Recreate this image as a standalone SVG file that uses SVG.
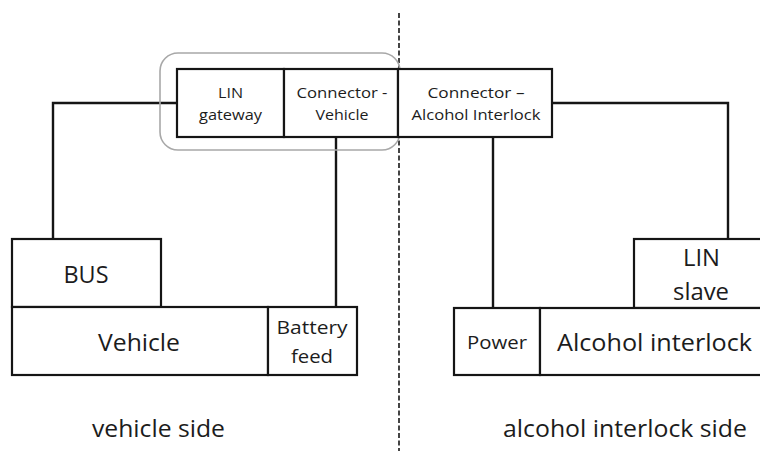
<svg xmlns="http://www.w3.org/2000/svg" width="760" height="451" viewBox="0 0 760 451">
  <style>
    .box { fill: #ffffff; stroke: #151515; stroke-width: 2.2; }
    .wire { fill: none; stroke: #151515; stroke-width: 2.4; }
    .group { fill: none; stroke: #a8a8a8; stroke-width: 1.6; }
    .divider { fill: none; stroke: #444444; stroke-width: 2; stroke-dasharray: 5 2.5; }
    text { font-family: "Open Sans", "Liberation Sans", sans-serif; fill: #1c1c1c; text-anchor: middle; }
    .sm { font-size: 15px; }
    .md { font-size: 18px; }
    .lg { font-size: 24px; }
  </style>

  <rect width="760" height="451" fill="#ffffff"/>

  <!-- side separator -->
  <line class="divider" x1="399" y1="13" x2="399" y2="451"/>

  <!-- connectors -->
  <g id="connectors">
    <path class="wire" d="M177,103 H53 V239"/>
    <path class="wire" d="M336,137 V307"/>
    <path class="wire" d="M493,137 V308"/>
    <path class="wire" d="M552,103 H728 V239"/>
  </g>

  <!-- vehicle-side grouping around gateway and vehicle connector -->
  <rect id="gateway-group" class="group" x="160" y="53" width="240" height="97" rx="18"/>

  <g id="lin-gateway">
    <rect class="box" x="177" y="69" width="107" height="68"/>
    <text class="sm" x="230.5" y="98" textLength="25" lengthAdjust="spacingAndGlyphs">LIN</text>
    <text class="sm" x="230.5" y="120" textLength="63" lengthAdjust="spacingAndGlyphs">gateway</text>
  </g>

  <g id="connector-vehicle">
    <rect class="box" x="284" y="69" width="114" height="68"/>
    <text class="sm" x="342" y="98" textLength="91" lengthAdjust="spacingAndGlyphs">Connector -</text>
    <text class="sm" x="342" y="120" textLength="53" lengthAdjust="spacingAndGlyphs">Vehicle</text>
  </g>

  <g id="connector-interlock">
    <rect class="box" x="398" y="69" width="154" height="68"/>
    <text class="sm" x="476" y="98" textLength="97" lengthAdjust="spacingAndGlyphs">Connector –</text>
    <text class="sm" x="476" y="120" textLength="129" lengthAdjust="spacingAndGlyphs">Alcohol Interlock</text>
  </g>

  <g id="bus">
    <rect class="box" x="12" y="239" width="149" height="68"/>
    <text class="lg" x="86" y="283" textLength="45" lengthAdjust="spacingAndGlyphs">BUS</text>
  </g>

  <g id="vehicle">
    <rect class="box" x="12" y="307" width="256" height="68"/>
    <text class="lg" x="139" y="351" textLength="82" lengthAdjust="spacingAndGlyphs">Vehicle</text>
  </g>

  <g id="battery-feed">
    <rect class="box" x="268" y="307" width="89" height="68"/>
    <text class="md" x="312" y="334" textLength="71" lengthAdjust="spacingAndGlyphs">Battery</text>
    <text class="md" x="312" y="363" textLength="42" lengthAdjust="spacingAndGlyphs">feed</text>
  </g>

  <g id="lin-slave">
    <rect class="box" x="634" y="239" width="140" height="69"/>
    <text class="lg" x="701.5" y="266" textLength="37" lengthAdjust="spacingAndGlyphs">LIN</text>
    <text class="lg" x="701" y="300" textLength="56" lengthAdjust="spacingAndGlyphs">slave</text>
  </g>

  <g id="power">
    <rect class="box" x="454" y="308" width="86" height="67"/>
    <text class="md" x="497" y="349" textLength="60" lengthAdjust="spacingAndGlyphs">Power</text>
  </g>

  <g id="alcohol-interlock">
    <rect class="box" x="540" y="308" width="234" height="67"/>
    <text class="lg" x="654.5" y="351" textLength="195" lengthAdjust="spacingAndGlyphs">Alcohol interlock</text>
  </g>

  <!-- side captions -->
  <text class="lg" x="158.5" y="437" font-size="22" textLength="133" lengthAdjust="spacingAndGlyphs">vehicle side</text>
  <text class="lg" x="625" y="437" font-size="22" textLength="244" lengthAdjust="spacingAndGlyphs">alcohol interlock side</text>
</svg>
